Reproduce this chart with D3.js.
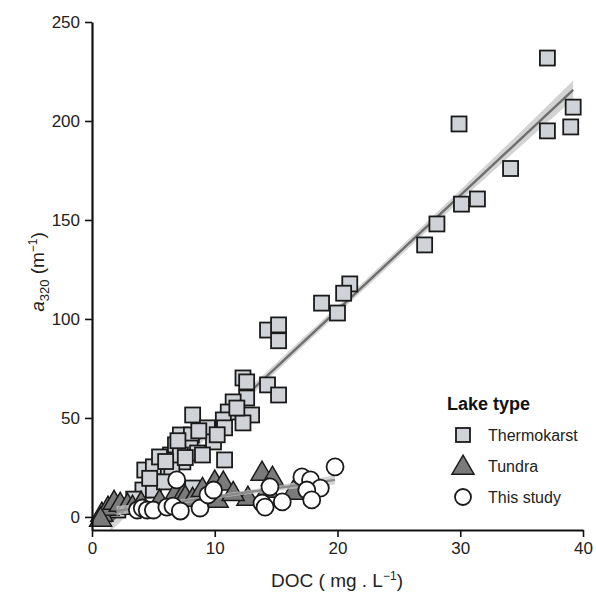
<!DOCTYPE html>
<html>
<head>
<meta charset="utf-8">
<script src="https://cdn.jsdelivr.net/npm/d3@7"></script>
<style>
  html, body { margin: 0; padding: 0; background: #fff; }
  svg { display: block; font-family: "Liberation Sans", Arial, sans-serif; }
</style>
</head>
<body>
<svg id="chart" width="596" height="592"></svg>
<script>
// DOC (mg/L) vs a320 (1/m) by lake type
const thermokarstDOC = [37.1, 29.9, 39.2, 37.1, 39.0, 34.1, 30.1, 31.4, 28.1, 27.1,
  21.0, 20.5, 18.7, 20.0, 14.3, 15.2, 15.2,
  12.3, 12.6, 14.3, 15.2, 12.6, 11.5, 11.1, 13.0, 12.3, 8.2, 10.7, 10.8, 9.45, 9.4,
  7.2, 8.1, 9.9, 8.0, 8.6, 6.4, 7.4, 10.8, 5.4, 4.3, 6.5, 9.0, 5.0, 5.5, 6.8,
  4.15, 5.0, 2.1, 5.9, 7.2, 8.2, 7.6, 7.0, 8.7, 10.2, 11.8, 6.0, 4.7, 3.4];
const thermokarstA320 = [231.8, 198.5, 207, 195, 197, 176, 158, 160.6, 148, 137.4,
  117.7, 113, 108, 103, 94.4, 97, 89,
  70.2, 68.2, 66.7, 61.6, 60.1, 58.1, 53.0, 51.5, 47.5, 51.5, 49.0, 45, 44, 45,
  41.4, 41.4, 37.9, 34.8, 32.3, 31.3, 27.8, 28.8, 24.7, 23.7, 24.7, 31.3, 25.3, 30.3, 36.4,
  13.6, 13.6, 3.5, 17.7, 31.3, 14.6, 30.0, 38.5, 43.5, 41.5, 55, 28, 19.5, 9];

const tundraDOC = [0.8, 1.3, 1.8, 2.3, 2.9, 3.3, 4.0, 5.5, 6.8, 7.4, 7.6, 8.2,
  10.0, 10.7, 10.2, 12.7, 13.85, 14.7, 14.3, 16.4, 9.0, 11.5, 0.7];
const tundraA320 = [1.5, 4.5, 7.5, 6.5, 6, 5, 7, 8, 12, 11, 10, 9,
  17.7, 17.2, 8.6, 9.6, 22.2, 19.7, 13.6, 12.6, 14, 12, -1];

const studyDOC = [3.7, 4.1, 4.5, 5.0, 6.1, 6.6, 7.2, 6.9, 8.8, 9.45, 9.9,
  13.85, 14.1, 14.5, 15.5, 17.1, 17.8, 18.6, 17.5, 17.9, 19.8];
const studyA320 = [3.5, 4.5, 3.5, 3.5, 5, 5.5, 3, 18.7, 4.5, 11.1, 13.6,
  7, 5, 15.2, 7.6, 20.2, 18.7, 14.6, 13.6, 8.6, 25.3];

// Linear fits (intercept, slope, x extent, band half-width at centre and ends)
const thermokarstFit = { b0: -11.3, b1: 5.79, x0: 1.5, x1: 39.2, seMid: 2.0, seEnd: 4.8 };
const studyFit = { b0: 1.3, b1: 0.88, x0: 2.0, x1: 19.8, seMid: 1.0, seEnd: 2.4 };

const xTicks = [0, 10, 20, 30, 40];
const yTicks = [0, 50, 100, 150, 200, 250];
const legendLabels = ["Thermokarst", "Tundra", "This study"];

const svg = d3.select("#chart");
const x = d3.scaleLinear().domain([0, 40]).range([92, 583]);
const y = d3.scaleLinear().domain([-6.6, 250]).range([530, 22]);

const squareFill = "#cfd3d7", triFill = "#7b7b7b", stroke = "#1a1a1a";
const sq = 15, circR = 8.5;
const triPath = (cx, cy) => {
  const w = 22, h = 19;
  return `M${cx},${cy - h * 0.62}L${cx + w / 2},${cy + h * 0.38}L${cx - w / 2},${cy + h * 0.38}Z`;
};

// Regression line with confidence band
function drawFit(fit, lineColor) {
  const xm = (fit.x0 + fit.x1) / 2, half = (fit.x1 - fit.x0) / 2;
  const pts = d3.range(0, 41).map(i => fit.x0 + (fit.x1 - fit.x0) * i / 40);
  const se = v => fit.seMid + (fit.seEnd - fit.seMid) * Math.pow((v - xm) / half, 2);
  const area = d3.area()
    .x(v => x(v))
    .y0(v => y(fit.b0 + fit.b1 * v - se(v)))
    .y1(v => y(fit.b0 + fit.b1 * v + se(v)));
  svg.append("path").attr("d", area(pts)).attr("fill", "#c4c4c4").attr("opacity", 0.75);
  svg.append("line")
    .attr("x1", x(fit.x0)).attr("y1", y(fit.b0 + fit.b1 * fit.x0))
    .attr("x2", x(fit.x1)).attr("y2", y(fit.b0 + fit.b1 * fit.x1))
    .attr("stroke", lineColor).attr("stroke-width", 2.4);
}

drawFit(thermokarstFit, "#6e6e6e");

// Thermokarst squares
svg.append("g").selectAll("rect").data(d3.range(thermokarstDOC.length)).join("rect")
  .attr("x", i => x(thermokarstDOC[i]) - sq / 2)
  .attr("y", i => y(thermokarstA320[i]) - sq / 2)
  .attr("width", sq).attr("height", sq)
  .attr("fill", squareFill).attr("stroke", stroke).attr("stroke-width", 1.8);

// Tundra triangles
svg.append("g").selectAll("path").data(d3.range(tundraDOC.length)).join("path")
  .attr("d", i => triPath(x(tundraDOC[i]), y(tundraA320[i])))
  .attr("fill", triFill).attr("stroke", stroke).attr("stroke-width", 1.5)
  .attr("stroke-linejoin", "miter");

drawFit(studyFit, "#8a8a8a");

// This study circles
svg.append("g").selectAll("circle").data(d3.range(studyDOC.length)).join("circle")
  .attr("cx", i => x(studyDOC[i])).attr("cy", i => y(studyA320[i]))
  .attr("r", circR)
  .attr("fill", "#fff").attr("stroke", stroke).attr("stroke-width", 1.8);

// Axes
const xAxis = svg.append("g").attr("transform", "translate(0,530)")
  .call(d3.axisBottom(x).tickValues(xTicks).tickSize(7).tickSizeOuter(0).tickPadding(5));
const yAxis = svg.append("g").attr("transform", "translate(92,0)")
  .call(d3.axisLeft(y).tickValues(yTicks).tickSize(7).tickSizeOuter(0).tickPadding(5));
[xAxis, yAxis].forEach(g => {
  g.select(".domain").attr("stroke", "#111").attr("stroke-width", 2.2);
  g.selectAll(".tick line").attr("stroke", "#111").attr("stroke-width", 1.6);
  g.selectAll(".tick text").attr("fill", "#222").style("font-size", "17px")
    .style("font-family", "'Liberation Sans', Arial, sans-serif");
});

// Axis titles
const xt = svg.append("text").attr("x", 337).attr("y", 587).attr("text-anchor", "middle")
  .attr("fill", "#222").style("font-size", "19px");
xt.append("tspan").text("DOC ( mg . L");
xt.append("tspan").attr("dy", -7).style("font-size", "12px").text("\u22121");
xt.append("tspan").attr("dy", 7).text(")");

const yt = svg.append("text").attr("transform", "translate(44,272) rotate(-90)")
  .attr("text-anchor", "middle").attr("fill", "#222").style("font-size", "19px");
yt.append("tspan").style("font-style", "italic").text("a");
yt.append("tspan").attr("dy", 5).style("font-size", "13px").text("320");
yt.append("tspan").attr("dy", -5).text(" (m");
yt.append("tspan").attr("dy", -7).style("font-size", "12px").text("\u22121");
yt.append("tspan").attr("dy", 7).text(")");

// Legend
const lg = svg.append("g");
lg.append("text").attr("x", 447).attr("y", 410).style("font-size", "18px")
  .style("font-weight", "bold").attr("fill", "#111").text("Lake type");
const ly = [435, 466, 497];
lg.append("rect").attr("x", 463 - 7).attr("y", ly[0] - 7).attr("width", 14).attr("height", 14)
  .attr("fill", squareFill).attr("stroke", stroke).attr("stroke-width", 1.8);
lg.append("path").attr("d", triPath(463, ly[1] + 1)).attr("fill", triFill)
  .attr("stroke", stroke).attr("stroke-width", 1.5);
lg.append("circle").attr("cx", 463).attr("cy", ly[2]).attr("r", 8)
  .attr("fill", "#fff").attr("stroke", stroke).attr("stroke-width", 1.8);
legendLabels.forEach((t, i) => {
  lg.append("text").attr("x", 488).attr("y", ly[i] + 6).style("font-size", "16px")
    .attr("fill", "#222").text(t);
});
</script>
</body>
</html>
